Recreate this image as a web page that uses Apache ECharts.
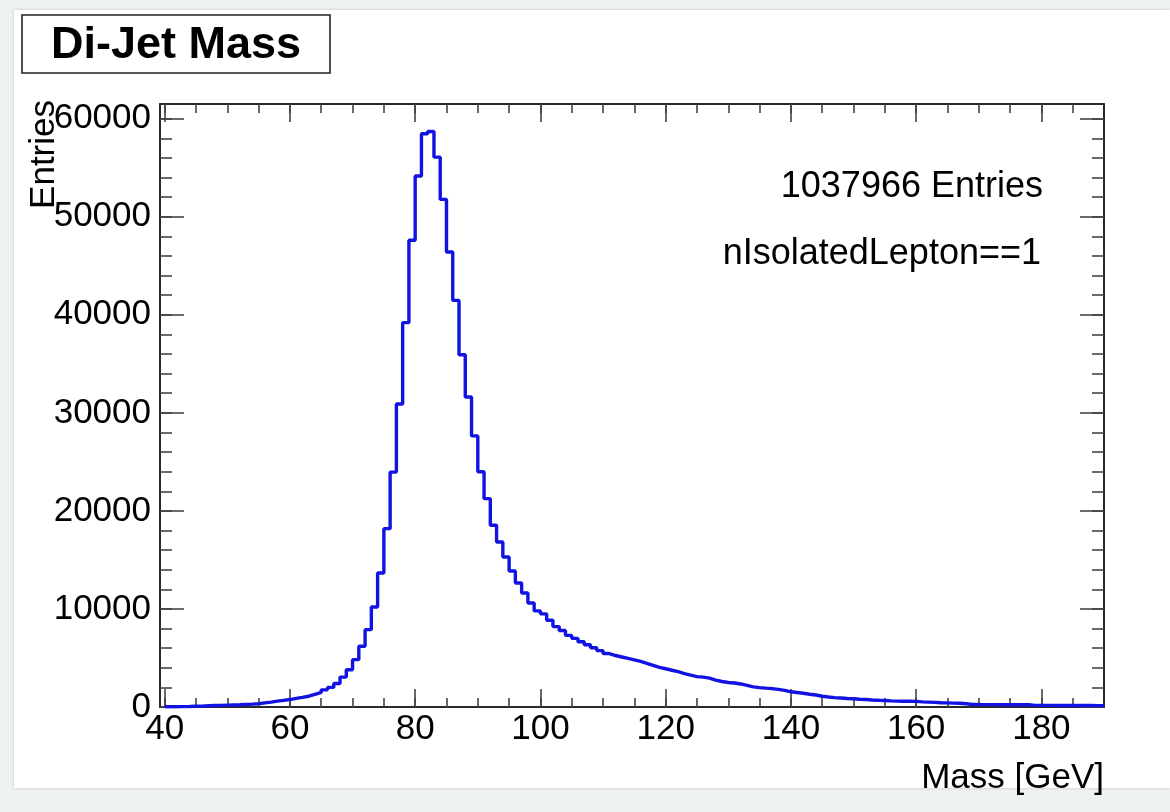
<!DOCTYPE html>
<html><head><meta charset="utf-8">
<script src="https://cdn.jsdelivr.net/npm/echarts@6/dist/echarts.min.js"></script>
<style>
html,body{margin:0;padding:0;background:#eef1f1;width:1170px;height:812px;overflow:hidden;}
#panel{position:absolute;left:14px;top:10px;width:1156px;height:778px;background:#fff;box-shadow:0 0 3px rgba(0,0,0,0.18);}
#chart{position:absolute;left:0;top:0;width:1170px;height:812px;}
</style></head><body>
<div id="panel"></div><div id="chart"></div>
<script>
// ---- data ----
const binStart = 40;      // low edge of first bin [GeV]
const binWidth = 1;       // bin width [GeV]
const entries = [
  20, 30, 40, 50, 70, 90, 130, 150, 170, 190,
  210, 230, 260, 290, 330, 420, 500, 600, 680, 760,
  880, 980, 1100, 1300, 1500, 1750, 2000, 2400, 3050, 3800,
  4830, 6190, 7890, 10200, 13660, 18190, 23960, 30900, 39200, 47600,
  54150, 58470, 58700, 56080, 51770, 46400, 41470, 35930, 31610, 27650,
  24000, 21250, 18530, 16830, 15300, 13870, 12640, 11630, 10600, 9800,
  9500, 8850, 8200, 7800, 7300, 7000, 6650, 6350, 6050, 5750,
  5450, 5250, 5100, 4950, 4800, 4650, 4450, 4250, 4050, 3900,
  3750, 3600, 3400, 3250, 3100, 3050, 2950, 2750, 2600, 2500,
  2450, 2350, 2200, 2050, 1980, 1920, 1870, 1800, 1700, 1550,
  1480, 1400, 1300, 1220, 1100, 1020, 960, 920, 870, 840,
  790, 760, 720, 690, 670, 620, 600, 590, 580, 570,
  520, 500, 470, 440, 420, 400, 380, 330, 260, 250,
  245, 240, 240, 235, 235, 230, 230, 225, 170, 170,
  165, 165, 160, 160, 155, 155, 150, 150, 145, 145
];
const xRange = [39.25, 190];
const yRange = [0, 61500];
const xMajorTicks = [40, 60, 80, 100, 120, 140, 160, 180];
const xMinorTicks = [40, 45, 50, 55, 60, 65, 70, 75, 80, 85, 90, 95, 100, 105, 110, 115, 120, 125, 130, 135, 140, 145, 150, 155, 160, 165, 170, 175, 180, 185];
const yMajorTicks = [0, 10000, 20000, 30000, 40000, 50000, 60000];
const yMinorTicks = [0, 2000, 4000, 6000, 8000, 10000, 12000, 14000, 16000, 18000, 20000, 22000, 24000, 26000, 28000, 30000, 32000, 34000, 36000, 38000, 40000, 42000, 44000, 46000, 48000, 50000, 52000, 54000, 56000, 58000, 60000];
const titleText = 'Di-Jet Mass';
const xTitle = 'Mass [GeV]';
const yTitle = 'Entries';
const statsLines = ['1037966 Entries', 'nIsolatedLepton==1'];

// ---- build step outline from bins ----
const stepData = entries.map((v, i) => [binStart + i * binWidth, v]);
stepData.push([binStart + entries.length * binWidth, entries[entries.length - 1]]);

const FONT = '"Liberation Sans", Arial, Helvetica, sans-serif';
const frameColor = '#2a2a2a';
const tickColor = '#444';
const plain = v => String(v);

function xAxisDef(pos, ticks, len, main) {
  return {
    type: 'value', position: pos, min: xRange[0], max: xRange[1],
    axisLine: { show: main, onZero: false, lineStyle: { color: frameColor, width: 2 } },
    axisTick: { show: true, inside: true, length: len, customValues: ticks, lineStyle: { color: tickColor, width: 1.6 } },
    axisLabel: (main && pos === 'bottom') ? { show: true, customValues: xMajorTicks, formatter: plain, fontSize: 35, color: '#000', fontFamily: FONT, margin: 5 } : { show: false },
    splitLine: { show: false }
  };
}
function yAxisDef(pos, ticks, len, main) {
  return {
    type: 'value', position: pos, min: yRange[0], max: yRange[1],
    axisLine: { show: main, onZero: false, lineStyle: { color: frameColor, width: 2 } },
    axisTick: { show: true, inside: true, length: len, customValues: ticks, lineStyle: { color: tickColor, width: 1.6 } },
    axisLabel: (main && pos === 'left') ? { show: true, customValues: yMajorTicks, formatter: plain, fontSize: 35, color: '#000', fontFamily: FONT, margin: 9 } : { show: false },
    splitLine: { show: false }
  };
}

const chart = echarts.init(document.getElementById('chart'), null, { renderer: 'canvas' });
chart.setOption({
  animation: false,
  backgroundColor: 'transparent',
  grid: { left: 160, top: 104, right: 66, bottom: 105, containLabel: false },
  xAxis: [
    xAxisDef('bottom', xMajorTicks, 18, true),
    xAxisDef('bottom', xMinorTicks, 9, false),
    xAxisDef('top', xMajorTicks, 18, true),
    xAxisDef('top', xMinorTicks, 9, false)
  ],
  yAxis: [
    yAxisDef('left', yMajorTicks, 24, true),
    yAxisDef('left', yMinorTicks, 12, false),
    yAxisDef('right', yMajorTicks, 24, true),
    yAxisDef('right', yMinorTicks, 12, false)
  ],
  series: [{
    type: 'line', xAxisIndex: 0, yAxisIndex: 0,
    data: stepData, step: 'end', symbol: 'none',
    lineStyle: { color: '#1212e2', width: 3.4 },
    z: 3
  }],
  graphic: [
    { type: 'rect', shape: { x: 22, y: 15, width: 308, height: 58 },
      style: { fill: '#fff', stroke: '#222', lineWidth: 1.6 } },
    { type: 'text', x: 176, y: 46,
      style: { text: titleText, font: 'bold 45px ' + FONT, fill: '#000', align: 'center', verticalAlign: 'middle' } },
    { type: 'text', x: 1043, y: 187,
      style: { text: statsLines[0], font: '36px ' + FONT, fill: '#000', align: 'right', verticalAlign: 'middle' } },
    { type: 'text', x: 1041, y: 254,
      style: { text: statsLines[1], font: '36px ' + FONT, fill: '#000', align: 'right', verticalAlign: 'middle' } },
    { type: 'text', x: 1104, y: 778,
      style: { text: xTitle, font: '35px ' + FONT, fill: '#000', align: 'right', verticalAlign: 'middle' } },
    { type: 'text', x: 44, y: 100, rotation: Math.PI / 2,
      style: { text: yTitle, font: '35px ' + FONT, fill: '#000', align: 'right', verticalAlign: 'middle' } }
  ]
});
</script>
</body></html>
